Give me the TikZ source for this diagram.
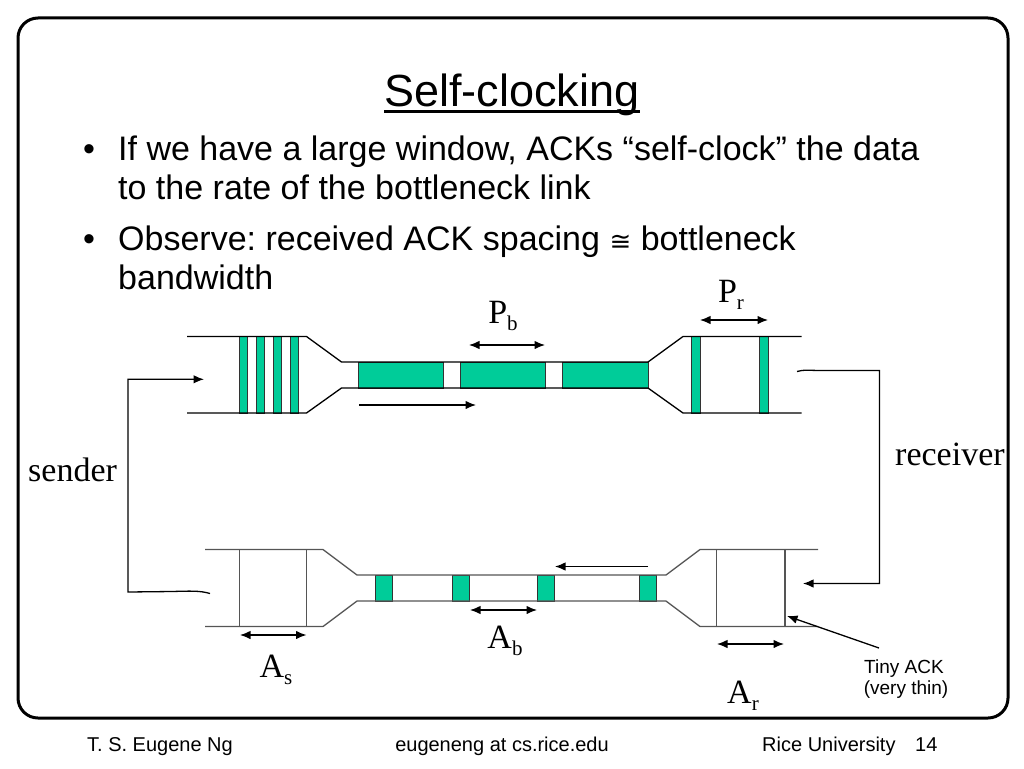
\documentclass[tikz,border=0pt]{standalone}
\usepackage{fontspec}
\setmainfont{Liberation Serif}
\setsansfont{Liberation Sans}
\newfontfamily\symfont{DejaVu Sans}
\frenchspacing
\usetikzlibrary{shapes.geometric, arrows, arrows.meta}
\definecolor{pktgreen}{HTML}{00CC99}
\definecolor{ackgray}{HTML}{555555}
\newcommand{\sublbl}[2]{#1\raisebox{-0.22em}{\fontsize{21}{21}\selectfont #2}}

\begin{document}
\begin{tikzpicture}[x=1pt,y=-1pt,>={Latex[length=10.5pt,width=8.5pt]},
    pipe/.style={line width=1.3pt},
    ackpipe/.style={line width=1.3pt,draw=ackgray},
    pkt/.style={fill=pktgreen,draw=black!80,line width=0.8pt},
    dim/.style={<->,line width=1.3pt},
    flow/.style={->,line width=1.3pt},
    lbl/.style={font=\fontsize{34}{34}\selectfont,inner sep=0pt},
    body/.style={font=\sffamily\fontsize{34}{39}\selectfont,anchor=base west,inner sep=0pt},
    foot/.style={font=\sffamily\fontsize{20}{20}\selectfont,anchor=base,inner sep=0pt}]
        \useasboundingbox (0,0) rectangle (1024,768);
        \draw[line width=3pt,rounded corners=20pt] (18,18) rectangle (1008,718);
        \node[font=\sffamily\fontsize{45}{45}\selectfont,anchor=base,inner sep=0pt] (title) at (512,106) {Self-clocking};
        \draw[line width=2.2pt] ([yshift=-5.5pt]title.base west) -- ([yshift=-5.5pt]title.base east);
        \node[body] (dot1) at (83,160) {•};
        \node[body] (b1) at (118,160) {If we have a large window, ACKs “self-clock” the data};
        \node[body] (b1b) at (118,199) {to the rate of the bottleneck link};
        \node[body] (dot2) at (83,250) {•};
        \node[body] (b2) at (118,250) {Observe: received ACK spacing {\symfont\fontsize{26}{26}\selectfont ≅} bottleneck};
        \node[body] (b2b) at (118,289) {bandwidth};
        % data pipe
        \foreach \a/\b in {358/443,460/545,562/648} \draw[pkt] (\a,362) rectangle (\b,388);
        \foreach \a in {239,256,273,290} \draw[pkt] (\a,336.5) rectangle ++(8.5,76.5);
        \foreach \a in {691,759} \draw[pkt] (\a,336.5) rectangle ++(9,76.5);
        \draw[pipe] (187,336.5) -- (306.5,336.5) -- (341.5,362) -- (648,362) -- (683,336.5) -- (801.5,336.5);
        \draw[pipe] (187,413) -- (306.5,413) -- (341.5,388) -- (648,388) -- (683,413) -- (801.5,413);
        \draw[flow] (359,405) -- (476,405);
        \draw[dim] (469,345) -- (545,345);
        \draw[dim] (700,320) -- (768,320);
        \node[lbl,anchor=base] (lPb) at (503,323) {\sublbl{P}{b}};
        \node[lbl,anchor=base] (lPr) at (731,302) {\sublbl{P}{r}};
        % ack pipe
        \foreach \a in {375,452,537,639.5} \draw[pkt] (\a,575) rectangle ++(17,26);
        \draw[ackpipe] (205,549.5) -- (323,549.5) -- (357,575) -- (666,575) -- (700,549.5) -- (818,549.5);
        \draw[ackpipe] (205,626.5) -- (323,626.5) -- (357,601) -- (666,601) -- (700,626.5) -- (818,626.5);
        \foreach \a in {239.5,306.5,716.5,785} \draw[ackpipe] (\a,549.5) -- (\a,626.5);
        \draw[flow] (648,566.5) -- (555,566.5);
        \draw[dim] (240,635) -- (306.5,635);
        \draw[dim] (470,610) -- (537,610);
        \draw[dim] (717,644) -- (784,644);
        \node[lbl,anchor=base] (lAs) at (276,677) {\sublbl{A}{s}};
        \node[lbl,anchor=base] (lAb) at (505,648) {\sublbl{A}{b}};
        \node[lbl,anchor=base] (lAr) at (743,703) {\sublbl{A}{r}};
        % loops
        \coordinate (sndOut) at (210,593.5);
        \coordinate (sndIn) at (204,379.3);
        \coordinate (rcvOut) at (797,371.5);
        \coordinate (rcvIn) at (803,583.5);
        \draw[flow] (sndOut) .. controls (200,590.5) and (190,591) .. (172,591.5) -- (128,592) -- (128,379.3) -- (sndIn);
        \draw[flow] (rcvOut) .. controls (803,369.5) and (810,370.5) .. (822,370.5) -- (879.5,370.5) -- (879.5,583.5) -- (rcvIn);
        \node[lbl,anchor=base west] (snd) at (28,481.5) {sender};
        \node[lbl,anchor=base west] (rcv) at (895,465) {receiver};
        \node[font=\sffamily\fontsize{19}{19}\selectfont,anchor=base,inner sep=0pt] (tiny1) at (904,673) {Tiny ACK};
        \node[font=\sffamily\fontsize{19}{19}\selectfont,anchor=base,inner sep=0pt] (tiny2) at (906,694) {(very thin)};
        \coordinate (tinyTail) at (879,648);
        \coordinate (tinyTip) at (787,616);
        \draw[flow] (tinyTail) -- (tinyTip);
        % footer
        \node[foot] (fAuthor) at (160,751) {T. S. Eugene Ng};
        \node[foot] (fMail) at (502,751) {eugeneng at cs.rice.edu};
        \node[foot,anchor=base west] (fUni) at (762,751) {Rice University};
        \node[foot,anchor=base west] (fPage) at (915,751) {14};
\end{tikzpicture}
\end{document}
